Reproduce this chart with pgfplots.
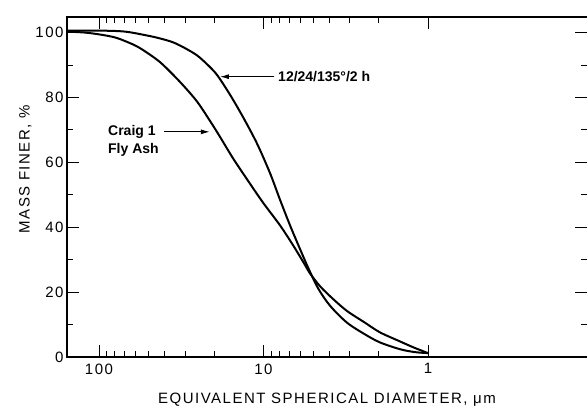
\documentclass[border=0pt]{standalone}
\usepackage{fontspec}
\setmainfont{Liberation Sans}
\newfontfamily\spacedfont[LetterSpace=10]{Liberation Sans}
\usepackage{pgfplots}
\pgfplotsset{compat=1.18}
\usetikzlibrary{arrows.meta}
\begin{document}
\begin{tikzpicture}
\begin{axis}[
  scale only axis, width=520pt, height=340pt,
  xmode=log, x dir=reverse,
  xmin=0.108, xmax=156.5, ymin=0, ymax=104.8,
  tick pos=both,
  xtick={1,10,100}, xticklabels={1,10,100},
  ytick={0,20,40,60,80,100}, minor ytick={10,30,50,70,90},
  tick align=inside, major tick length=12pt, minor tick length=6pt,
  every tick/.style={black, line width=0.9pt},
  axis line style={draw=none},
  /pgf/number format/assume math mode=true,
  tick label style={font=\spacedfont\fontsize{15}{18}\selectfont},
  xticklabel style={yshift=-3pt},
  label style={font=\spacedfont\fontsize{15}{18}\selectfont},
  xlabel={EQUIVALENT SPHERICAL DIAMETER, μm},
  ylabel={MASS FINER, \%},
  xlabel style={at={(axis description cs:0.5,-0.125)}, anchor=center},
  ylabel style={at={(axis description cs:-0.08,0.552)}, anchor=center},
  clip=false,
]
% 12/24/135 C / 2 h
\addplot[black, line width=2pt, smooth, tension=0.5] coordinates {
(156.5,100.6) (98.6,100.6) (69.5,100.3) (51.1,99.1) (42.6,98.2) (35.5,97.0)
(30.0,95.2) (25.4,93.0) (22.1,90.3) (19.2,87.0) (16.0,80.9) (13.3,73.9)
(10.95,65.8) (9.13,56.7) (7.94,48.5) (6.90,40.6) (6.00,33.3) (5.36,27.6)
(4.66,21.2) (3.94,15.8) (3.11,10.6) (2.42,7.0) (1.96,4.5) (1.48,2.4)
(1.20,1.5) (1.0,1.2)
};
% Craig 1 Fly Ash
\addplot[black, line width=2pt, smooth, tension=0.5] coordinates {
(156.5,100.3) (121.7,100.0) (98.6,99.4) (79.9,98.5) (66.6,97.0) (56.3,95.2)
(42.6,90.9) (32.2,84.8) (25.4,78.8) (21.1,72.7) (18.4,67.9) (15.3,61.2)
(12.6,54.8) (10.07,47.6) (7.94,40.6) (6.62,34.5) (5.75,29.4) (5.22,25.8)
(4.53,21.8) (3.78,17.9) (3.11,14.2) (2.42,10.6) (1.96,7.6) (1.48,4.8)
(1.23,3.0) (1.0,1.2)
};
\draw[line width=1.4pt] (axis cs:156.5,104.8) -- (axis cs:0.108,104.8);
\draw[line width=1.8pt] (axis cs:156.5,0) -- (axis cs:0.108,0);
\draw[line width=2.4pt] (axis cs:156.5,-0.3) -- (axis cs:156.5,105.0);
\node[anchor=west, font=\bfseries\fontsize{14}{16}\selectfont, inner sep=0pt] at (axis cs:8.16,86.4) {12/24/135°/2 h};
\draw[-{Latex[length=9pt,width=5pt]}, line width=1pt] (axis cs:8.6,86.4) -- (axis cs:18.4,86.4);
\node[anchor=west, font=\bfseries\fontsize{14}{16}\selectfont, inner sep=0pt] at (axis cs:88.2,69.4) {Craig 1};
\node[anchor=west, font=\bfseries\fontsize{14}{16}\selectfont, inner sep=0pt] at (axis cs:88.2,63.8) {Fly Ash};
\draw[-{Latex[length=9pt,width=5pt]}, line width=1pt] (axis cs:40.0,69.4) -- (axis cs:21.2,69.4);
\coordinate (AX0) at (axis cs:156.5,0);
\coordinate (AX1) at (axis cs:0.108,104.8);
\end{axis}
\pgfresetboundingbox
\path[use as bounding box] ([xshift=-67pt,yshift=-49pt]AX0) rectangle ([yshift=17pt]AX1);
\end{tikzpicture}
\end{document}
